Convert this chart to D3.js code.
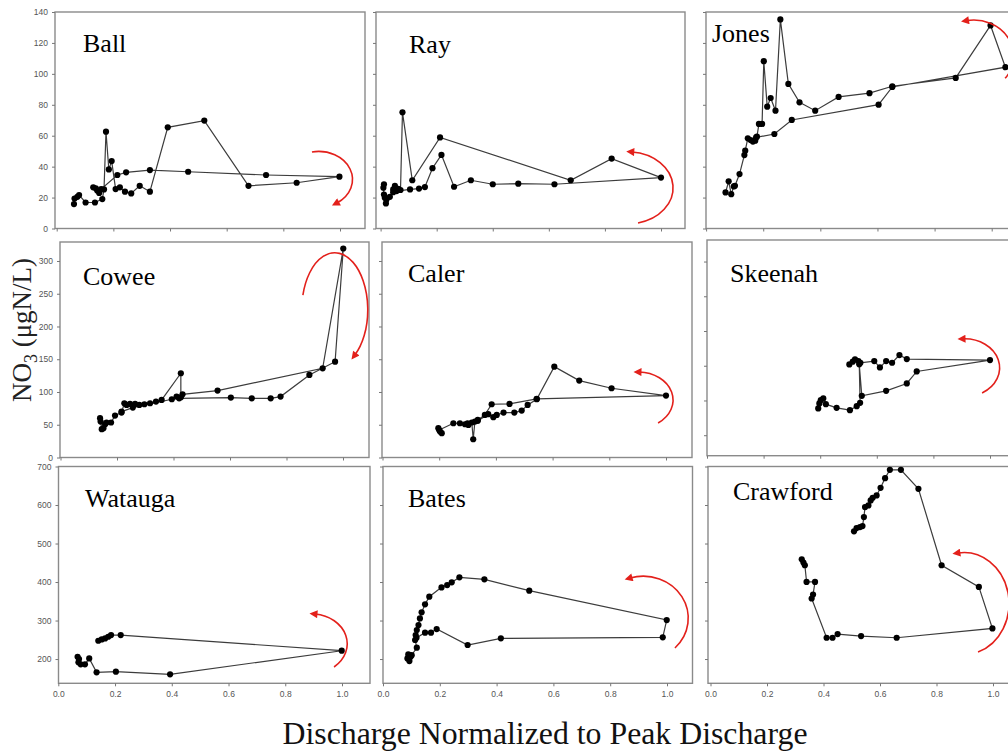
<!DOCTYPE html>
<html>
<head>
<meta charset="utf-8">
<script src="https://cdn.jsdelivr.net/npm/d3@7"></script>
<style>
body { margin:0; background:#fff; }
</style>
</head>
<body>
<div id="plot"></div>
<script>
var names = ['Ball','Ray','Jones','Cowee','Caler','Skeenah','Watauga','Bates','Crawford'];

// [discharge / peak discharge, NO3 ugN/L], in sampling order
var ball = [[0.061,15.8],[0.063,19.4],[0.073,20.5],[0.079,21.6],[0.102,16.8],[0.135,16.8],[0.161,19.0],[0.167,25.3],[0.174,62.6],[0.184,38.2],[0.194,43.6],[0.208,25.5],[0.223,26.6],[0.241,23.8],[0.263,22.7],[0.293,27.6],[0.329,23.8],[0.392,65.4],[0.521,69.8],[0.677,27.6],[0.847,29.6],[0.998,33.5],[0.739,34.6],[0.464,36.7],[0.329,37.8],[0.245,36.3],[0.214,34.6],[0.157,25.5],[0.150,23.0],[0.143,24.5],[0.138,26.0],[0.129,26.6]];

var ray = [[0.012,28.6],[0.010,26.4],[0.012,22.0],[0.015,19.9],[0.019,16.2],[0.021,18.8],[0.033,20.5],[0.045,25.3],[0.051,27.5],[0.063,25.7],[0.071,24.9],[0.078,75.1],[0.113,31.2],[0.212,58.9],[0.678,31.2],[0.824,45.2],[1.0,32.9],[0.620,28.6],[0.491,29.0],[0.400,28.6],[0.322,31.2],[0.262,27.0],[0.217,47.6],[0.185,39.0],[0.158,26.8],[0.137,25.8],[0.105,25.3],[0.057,24.2],[0.045,23.5]];

var jones = [[0.068,23.3],[0.079,30.5],[0.088,22.2],[0.097,27.2],[0.101,27.6],[0.117,35.2],[0.134,47.5],[0.137,50.3],[0.146,58.3],[0.156,57.2],[0.164,56.2],[0.172,56.8],[0.178,59.4],[0.185,67.6],[0.196,67.6],[0.202,108.2],[0.214,78.8],[0.226,84.4],[0.243,76.2],[0.260,135.2],[0.288,93.5],[0.327,81.6],[0.382,76.2],[0.464,85.1],[0.572,87.5],[0.652,92.0],[0.874,97.4],[0.996,131.3],[1.048,104.3],[0.652,91.5],[0.604,80.1],[0.300,70.2],[0.239,61.1],[0.175,58.9]];

var cowee = [[0.140,60.0],[0.142,54.9],[0.146,43.2],[0.152,44.7],[0.158,50.8],[0.163,53.4],[0.179,53.4],[0.193,64.0],[0.216,68.6],[0.226,82.8],[0.234,80.3],[0.246,81.8],[0.264,81.8],[0.279,80.3],[0.297,81.3],[0.317,82.8],[0.338,85.4],[0.358,87.9],[0.426,128.6],[0.426,92.0],[0.432,96.5],[0.556,102.1],[0.928,136.2],[1.001,319.1],[0.972,146.3],[0.881,126.0],[0.779,93.0],[0.744,90.4],[0.677,90.4],[0.603,91.5],[0.420,90.4],[0.411,93.0],[0.394,88.9],[0.256,76.2],[0.216,70.0]];

var caler = [[0.197,44.7],[0.203,39.6],[0.209,37.1],[0.200,42.0],[0.250,52.3],[0.273,52.3],[0.291,50.8],[0.303,49.8],[0.315,53.4],[0.320,27.9],[0.326,54.9],[0.336,57.4],[0.361,65.0],[0.385,81.3],[0.448,81.8],[0.544,89.4],[1.0,94.5],[0.808,105.7],[0.694,117.4],[0.606,138.7],[0.544,89.0],[0.512,80.3],[0.491,71.6],[0.465,68.6],[0.427,68.6],[0.403,65.0],[0.391,61.5],[0.373,66.1],[0.336,56.0],[0.300,52.0]];

var skeenah = [[0.393,88.5],[0.397,95.7],[0.402,100.5],[0.411,102.9],[0.420,94.7],[0.458,89.4],[0.505,86.1],[0.529,91.8],[0.541,96.6],[0.538,152.0],[0.547,106.7],[0.633,113.9],[0.706,124.5],[0.741,141.8],[1.0,158.2],[0.706,159.6],[0.680,165.4],[0.654,154.3],[0.633,156.7],[0.611,147.6],[0.591,156.7],[0.542,154.3],[0.535,156.7],[0.523,159.1],[0.515,155.8],[0.503,151.9]];

var watauga = [[0.068,206.0],[0.073,200.0],[0.071,191.4],[0.079,186.2],[0.094,186.2],[0.109,201.7],[0.135,165.5],[0.203,167.2],[0.394,160.3],[0.999,221.6],[0.220,262.2],[0.186,262.2],[0.176,257.9],[0.165,253.5],[0.153,251.0],[0.141,247.5]];

var bates = [[0.089,212.0],[0.086,201.7],[0.093,194.8],[0.097,206.0],[0.101,210.0],[0.119,229.4],[0.113,249.4],[0.115,262.3],[0.119,275.3],[0.125,288.3],[0.130,305.6],[0.136,321.2],[0.148,342.0],[0.163,361.9],[0.206,386.1],[0.226,392.2],[0.242,399.1],[0.269,412.1],[0.357,406.9],[0.515,377.5],[0.999,301.3],[0.985,256.3],[0.415,253.7],[0.298,236.4],[0.189,277.9],[0.169,268.4],[0.148,268.4],[0.118,255.0]];

var crawford = [[0.323,459.0],[0.329,450.4],[0.334,443.5],[0.340,400.3],[0.370,400.3],[0.363,367.5],[0.358,357.2],[0.411,255.3],[0.432,255.3],[0.450,264.8],[0.533,259.6],[0.659,255.3],[0.998,279.4],[0.950,387.4],[0.818,443.5],[0.736,642.1],[0.674,691.4],[0.635,691.4],[0.618,669.8],[0.602,644.7],[0.588,624.9],[0.574,618.9],[0.567,612.0],[0.559,599.0],[0.547,594.6],[0.543,568.7],[0.538,545.4],[0.529,542.8],[0.517,540.2],[0.508,531.6]];

var series = [ball, ray, jones, cowee, caler, skeenah, watauga, bates, crawford];

var xTicks = [0, 0.2, 0.4, 0.6, 0.8, 1.0];
var yTicksTop = [0, 20, 40, 60, 80, 100, 120, 140];
var yTicksMid = [0, 50, 100, 150, 200, 250, 300];
var yTicksBot = [200, 300, 400, 500, 600, 700];

// hysteresis direction arrows: [x start, y start, x end, y end] in data units
var arrows = [[0.901,49.5,0.989,16.5],[0.918,3.6,0.896,49.5],[1.047,97.1,0.912,134.4],[0.858,248,1.042,156.5],[0.972,52.7,0.905,130.5],[0.972,110.8,0.905,188.7],[0.972,179.3,0.905,317],[1.028,228.7,0.870,410.4],[0.947,218.3,0.876,475.4]];

// panel boxes in pixels (x0/x1 are where 0 and 1 of discharge fall)
var layout = [
  {left:55, x0:56.7, x1:340, right:365, top:12, bottom:228.5, yd:[0,140], yt:yTicksTop, lx:28, ly:40, arc:[34,28,0,1]},
  {left:376, x0:380.6, x1:661, right:685, top:12, bottom:228.5, yd:[0,140], yt:yTicksTop, lx:33, ly:41, arc:[45,36,0,0]},
  {left:706, x0:706.1, x1:991.7, right:1030, top:12, bottom:228.5, yd:[0,140], yt:yTicksTop, lx:6, ly:30, arc:[40,36,0,0]},
  {left:60, x0:60.5, x1:343, right:369, top:242, bottom:457.5, yd:[0,329], yt:yTicksMid, lx:23, ly:43, arc:[33,57,1,1]},
  {left:382, x0:382.5, x1:666, right:692, top:242, bottom:457.5, yd:[0,329], yt:yTicksMid, lx:26, ly:40, arc:[35,28,0,0]},
  {left:707, x0:707, x1:990, right:1030, top:240, bottom:455.7, yd:[20.5,331], yt:yTicksMid, lx:23, ly:42, arc:[35,29,0,0]},
  {left:58.5, x0:58.3, x1:342, right:370, top:466.5, bottom:683.3, yd:[137,700], yt:yTicksBot, lx:26.5, ly:40.5, arc:[36,30,0,0]},
  {left:383, x0:383, x1:667, right:692.5, top:466.5, bottom:683.3, yd:[137,700], yt:yTicksBot, lx:25, ly:40.5, arc:[45,42,0,0]},
  {left:708, x0:710.5, x1:993, right:1030, top:466.5, bottom:683.3, yd:[137,700], yt:yTicksBot, lx:25, ly:33.5, arc:[45,51,0,0]}
];

var svg = d3.select('#plot').append('svg')
  .attr('width', 1008)
  .attr('height', 753)
  .style('display', 'block');

svg.append('defs').append('marker')
  .attr('id', 'head')
  .attr('viewBox', '0 0 10 10')
  .attr('refX', 3)
  .attr('refY', 5)
  .attr('markerWidth', 10)
  .attr('markerHeight', 8)
  .attr('markerUnits', 'userSpaceOnUse')
  .attr('orient', 'auto')
  .append('path')
  .attr('d', 'M0,0 L10,5 L0,10 z')
  .attr('fill', '#e3201b');

var style_axis = function(a) {
  a.select('.domain').remove();
  a.selectAll('.tick line').attr('stroke', '#777');
  a.attr('font-family', 'Arial, "Liberation Sans", sans-serif').attr('font-size', 8.5);
  a.selectAll('.tick text').attr('fill', '#555');
};

layout.forEach(function(p, i) {

  var row = Math.floor(i / 3), col = i % 3;
  var x = d3.scaleLinear().domain([0, 1]).range([p.x0, p.x1]);
  var y = d3.scaleLinear().domain(p.yd).range([p.bottom, p.top]);
  var g = svg.append('g').attr('class', 'panel');

  g.append('rect')
    .attr('x', p.left).attr('y', p.top)
    .attr('width', p.right - p.left).attr('height', p.bottom - p.top)
    .attr('fill', '#fff')
    .attr('stroke', '#8a8a8a')
    .attr('stroke-width', 1.4);

  var xaxis = d3.axisBottom(x).tickValues(xTicks).tickSize(3).tickPadding(5)
    .tickFormat(row == 2 ? d3.format('.1f') : '');
  g.append('g')
    .attr('transform', 'translate(0,' + p.bottom + ')')
    .call(xaxis).call(style_axis);

  var yt = p.yt.filter(function(t) { return t >= p.yd[0] && t <= p.yd[1]; });
  var yaxis = d3.axisLeft(y).tickValues(yt).tickSize(3).tickPadding(4)
    .tickFormat(col == 0 ? d3.format('d') : '');
  g.append('g')
    .attr('transform', 'translate(' + p.left + ',0)')
    .call(yaxis).call(style_axis);

  var line = d3.line()
    .x(function(d) { return x(d[0]); })
    .y(function(d) { return y(d[1]); });

  g.append('path')
    .datum(series[i])
    .attr('d', line)
    .attr('fill', 'none')
    .attr('stroke', '#3c3c3c')
    .attr('stroke-width', 1.2);

  g.selectAll('circle')
    .data(series[i])
    .enter().append('circle')
    .attr('cx', function(d) { return x(d[0]); })
    .attr('cy', function(d) { return y(d[1]); })
    .attr('r', 3.1)
    .attr('fill', '#000');

  var a = arrows[i];
  g.append('path')
    .attr('d', 'M' + x(a[0]) + ',' + y(a[1]) + ' A' + p.arc[0] + ',' + p.arc[1] + ' 0 ' + p.arc[2] + ' ' + p.arc[3] + ' ' + x(a[2]) + ',' + y(a[3]))
    .attr('fill', 'none')
    .attr('stroke', '#e3201b')
    .attr('stroke-width', 1.6)
    .attr('marker-end', 'url(#head)');

  g.append('text')
    .attr('x', p.left + p.lx)
    .attr('y', p.top + p.ly)
    .attr('font-family', '"Liberation Serif", "Times New Roman", serif')
    .attr('font-size', 26)
    .attr('fill', '#000')
    .text(names[i]);

});

var ylab = svg.append('text')
  .attr('transform', 'translate(31,330) rotate(-90)')
  .attr('text-anchor', 'middle')
  .attr('font-family', '"Liberation Serif", "Times New Roman", serif')
  .attr('font-size', 27)
  .attr('fill', '#222');
ylab.append('tspan').text('NO');
ylab.append('tspan').attr('dy', 6).attr('font-size', 18).text('3');
ylab.append('tspan').attr('dy', -6).text(' (\u03bcgN/L)');

svg.append('text')
  .attr('x', 545)
  .attr('y', 744)
  .attr('text-anchor', 'middle')
  .attr('font-family', '"Liberation Serif", "Times New Roman", serif')
  .attr('font-size', 32)
  .attr('textLength', 525)
  .attr('lengthAdjust', 'spacingAndGlyphs')
  .attr('fill', '#111')
  .text('Discharge Normalized to Peak Discharge');
</script>
</body>
</html>
